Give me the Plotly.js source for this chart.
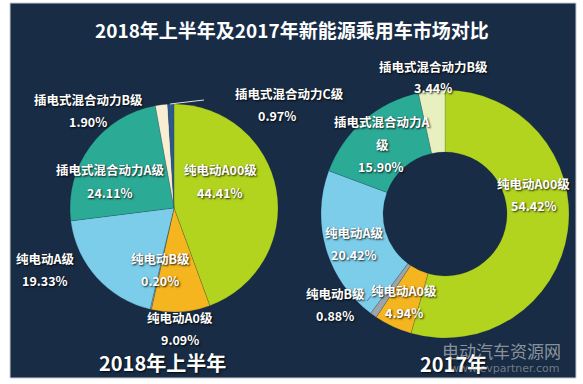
<!DOCTYPE html>
<html>
<head>
<meta charset="utf-8">
<script src="https://cdn.plot.ly/plotly-3.0.1.min.js"></script>
<style>html,body{margin:0;padding:0;background:#fff;}#chart{width:583px;height:384px;}</style>
</head>
<body>
<div id="chart"></div>
<script>
// ---- data ----
const title = '2018年上半年及2017年新能源乘用车市场对比';
const labels2018 = ['纯电动A00级','纯电动A0级','纯电动B级','纯电动A级','插电式混合动力A级','插电式混合动力B级','插电式混合动力C级'];
const values2018 = [44.41, 9.09, 0.20, 19.33, 24.11, 1.90, 0.97];
const labels2017 = ['纯电动A00级','纯电动A0级','纯电动B级','纯电动A级','插电式混合动力A级','插电式混合动力B级'];
const values2017 = [54.42, 4.94, 0.88, 20.42, 15.90, 3.44];
const names2017Display = ['纯电动A00级','纯电动A0级','纯电动B级','纯电动A级','插电式混合动力A<br>级','插电式混合动力B级'];
const caption2018 = '2018年上半年';
const caption2017 = '2017年';

// ---- styles / positions ----
const colors2018 = ['#B3D41F','#F4B51F','#9AA3A8','#7CCDEA','#2BAA96','#F7EED3','#2D5A8A'];
const colors2017 = ['#B3D41F','#F4B51F','#9EA4A8','#7CCDEA','#2BAA96','#E8F0C0'];
// [nameX, nameY, valueX] in pixels (label centres)
const pos2018 = [[220,170,220],[180,317,180],[160,258,160],[45,258,45],[110,170,110],[88,99,88],[289,93,277]];
const pos2017 = [[533,183,534],[404,290,404],[335,293,335],[354,232,354],[382,122,381],[433,66,433]];
const W = 583, H = 384;
const px = x => x / W, py = y => 1 - y / H;
const FONT = '"Noto Sans CJK SC", "Microsoft YaHei", sans-serif';
const shadow = '1px 1px 2px rgba(0,0,0,0.85)';

const annotations = [];
function addText(text, x, y, size, color, extra) {
  annotations.push(Object.assign({
    text: text, x: px(x), y: py(y), xref: 'paper', yref: 'paper',
    xanchor: 'center', yanchor: 'middle', showarrow: false,
    font: {family: FONT, size: size, color: color, weight: 700, shadow: shadow}
  }, extra || {}));
}
function addLabels(names, values, pos) {
  names.forEach((n, i) => {
    const lines = n.split('<br>');
    const [nx, ny, vx] = pos[i];
    const gap = 22;
    lines.forEach((ln, j) => addText(ln, nx, ny + j * gap, 12.5, '#FFFFFF'));
    addText(values[i].toFixed(2) + '%', vx, ny + lines.length * gap, 12.5, '#FFFFFF');
  });
}
addLabels(labels2018, values2018, pos2018);
addLabels(names2017Display, values2017, pos2017);

addText(title, 292, 29, 19, '#FFFFFF', {font: {family: FONT, size: 19, color: '#FFFFFF', weight: 700}});
addText(caption2018, 162, 362, 20, '#FFFFFF');
addText(caption2017, 453, 363, 20, '#FFFFFF');
// watermark
addText('电动汽车资源网', 501, 350, 17, 'rgba(205,205,205,0.65)', {font: {family: FONT, size: 17, color: 'rgba(205,205,205,0.65)', weight: 400}});
addText('www.evpartner.com', 505, 368, 11, 'rgba(190,190,190,0.55)', {font: {family: 'DejaVu Sans, sans-serif', size: 11, color: 'rgba(190,190,190,0.55)', weight: 400}});

const shapes = [
  {type: 'rect', xref: 'paper', yref: 'paper', x0: px(10), x1: px(576), y0: py(378), y1: py(3),
   fillcolor: '#182C45', line: {color: '#C8CDD2', width: 1}, layer: 'below'},
  {type: 'line', xref: 'paper', yref: 'paper', x0: px(170), y0: py(104), x1: px(204), y1: py(100),
   line: {color: '#DDE3E8', width: 1}},
  {type: 'line', xref: 'paper', yref: 'paper', x0: px(367), y0: py(301), x1: px(378), y1: py(288),
   line: {color: '#5A7890', width: 1}}
];

const pieCommon = {
  type: 'pie', sort: false, direction: 'clockwise', rotation: 0,
  textinfo: 'none', hoverinfo: 'none', showlegend: false
};
const data = [
  Object.assign({}, pieCommon, {
    labels: labels2018, values: values2018,
    marker: {colors: colors2018, line: {color: 'rgba(20,40,60,0.35)', width: 0.5}},
    domain: {x: [px(70), px(278)], y: [72 / H, 280 / H]}
  }),
  Object.assign({}, pieCommon, {
    labels: labels2017, values: values2017, hole: 0.5,
    marker: {colors: colors2017, line: {color: 'rgba(20,40,60,0.35)', width: 0.5}},
    domain: {x: [px(321), px(569)], y: [46 / H, 294 / H]}
  })
];

const layout = {
  width: W, height: H,
  margin: {l: 0, r: 0, t: 0, b: 0},
  paper_bgcolor: '#FFFFFF', plot_bgcolor: 'rgba(0,0,0,0)',
  shapes: shapes, annotations: annotations
};
Plotly.newPlot('chart', data, layout, {displayModeBar: false, staticPlot: true});
</script>
</body>
</html>
